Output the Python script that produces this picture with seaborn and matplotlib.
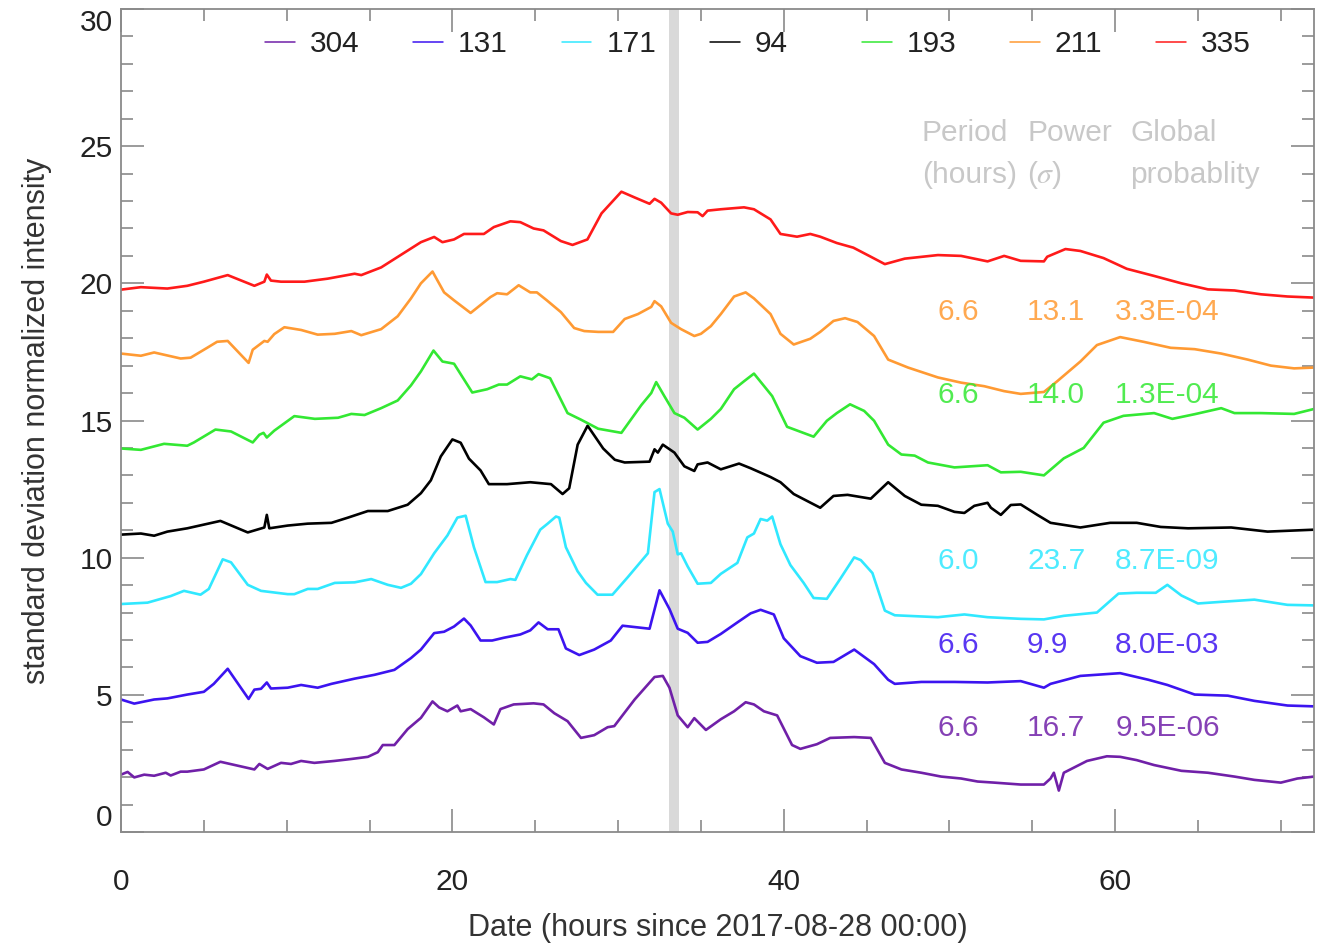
import matplotlib
matplotlib.use("Agg")
import matplotlib.pyplot as plt
import seaborn as sns
import pandas as pd
from matplotlib.ticker import MultipleLocator

# ---------------- data ----------------
channels = ["304", "131", "171", "94", "193", "211", "335"]
colors = ["#7020A8", "#3C14F0", "#30E8FF", "#000000", "#33E833", "#FF9A33", "#FF1A1A"]

s335 = [(0, 19.77), (1.2, 19.86), (2.8, 19.81), (4.0, 19.91), (5.0, 20.06), (6.44, 20.3), (8.05, 19.91),
        (8.65, 20.06), (8.8, 20.32), (9.05, 20.1), (9.66, 20.06), (11.07, 20.06), (12.47, 20.17),
        (14.1, 20.35), (14.5, 20.3), (15.7, 20.58), (16.9, 21.04), (18.1, 21.5), (18.9, 21.69),
        (19.4, 21.5), (20.1, 21.6), (20.7, 21.8), (21.9, 21.8), (22.5, 22.05), (23.5, 22.26),
        (24.1, 22.23), (24.9, 22.0), (25.5, 21.93), (26.55, 21.54), (27.25, 21.4), (28.15, 21.6),
        (29.0, 22.55), (30.2, 23.34), (31.0, 23.13), (31.9, 22.9), (32.2, 23.08), (32.6, 22.94),
        (33.2, 22.55), (33.6, 22.5), (34.2, 22.6), (34.8, 22.59), (35.1, 22.45), (35.4, 22.65),
        (36.2, 22.7), (37.6, 22.77), (38.2, 22.7), (39.2, 22.33), (39.8, 21.8), (40.8, 21.7),
        (41.6, 21.8), (42.2, 21.7), (43.2, 21.47), (44.2, 21.3), (45.25, 20.97), (46.1, 20.7),
        (47.3, 20.9), (49.3, 21.03), (50.7, 21.0), (52.3, 20.8), (53.3, 21.0), (54.3, 20.82),
        (55.7, 20.8), (55.9, 20.97), (57.0, 21.25), (57.9, 21.18), (59.3, 20.92), (60.7, 20.53),
        (62.35, 20.27), (64.0, 20.0), (65.6, 19.78), (67.2, 19.74), (68.8, 19.6), (70.4, 19.52),
        (72, 19.48)]

s211 = [(0, 17.44), (1.2, 17.36), (2.0, 17.48), (3.6, 17.26), (4.2, 17.29), (5.2, 17.65), (5.8, 17.87),
        (6.44, 17.9), (7.7, 17.1), (7.95, 17.58), (8.65, 17.9), (8.85, 17.87), (9.25, 18.15),
        (9.86, 18.4), (10.87, 18.3), (11.87, 18.13), (12.9, 18.16), (13.9, 18.26), (14.5, 18.11),
        (15.7, 18.33), (16.7, 18.8), (17.5, 19.45), (18.1, 20.0), (18.8, 20.43), (19.5, 19.67),
        (20.1, 19.38), (21.1, 18.92), (22.3, 19.5), (22.7, 19.64), (23.3, 19.6), (24.0, 19.93),
        (24.7, 19.67), (25.1, 19.67), (25.7, 19.38), (26.55, 18.95), (27.35, 18.37), (27.96, 18.26),
        (28.8, 18.23), (29.7, 18.23), (30.4, 18.7), (31.2, 18.88), (32.0, 19.14), (32.2, 19.35),
        (32.6, 19.16), (33.2, 18.56), (33.8, 18.33), (34.6, 18.08), (35.0, 18.16), (35.6, 18.44),
        (36.2, 18.88), (37.0, 19.52), (37.7, 19.67), (38.2, 19.45), (39.2, 18.88), (39.8, 18.16),
        (40.6, 17.77), (41.6, 17.98), (42.2, 18.23), (43.0, 18.63), (43.7, 18.73), (44.45, 18.59),
        (45.45, 18.08), (46.3, 17.22), (47.5, 16.93), (49.3, 16.57), (50.7, 16.38), (52.1, 16.25),
        (53.3, 16.07), (54.3, 15.97), (55.7, 16.04), (56.5, 16.43), (57.9, 17.15), (58.9, 17.75),
        (60.3, 18.04), (61.7, 17.87), (63.35, 17.65), (64.8, 17.6), (66.4, 17.44), (68.0, 17.22),
        (69.4, 17.0), (70.8, 16.9), (72, 16.93)]

s193 = [(0, 13.98), (1.2, 13.93), (2.6, 14.15), (4.0, 14.08), (4.4, 14.2), (5.7, 14.67), (6.64, 14.6),
        (7.95, 14.2), (8.35, 14.48), (8.6, 14.55), (8.8, 14.38), (9.25, 14.63), (10.46, 15.16),
        (11.7, 15.06), (13.1, 15.1), (13.9, 15.24), (14.7, 15.2), (15.7, 15.45), (16.7, 15.73),
        (17.5, 16.28), (18.1, 16.79), (18.86, 17.55), (19.4, 17.15), (20.1, 17.07), (21.2, 16.02),
        (22.1, 16.14), (22.8, 16.31), (23.3, 16.31), (24.1, 16.61), (24.8, 16.5), (25.2, 16.69),
        (25.9, 16.54), (26.95, 15.27), (27.76, 15.03), (28.8, 14.7), (30.2, 14.55), (31.4, 15.56),
        (32.0, 16.0), (32.3, 16.4), (32.8, 15.88), (33.4, 15.27), (34.0, 15.1), (34.8, 14.67),
        (35.6, 15.06), (36.2, 15.42), (37.0, 16.14), (37.6, 16.43), (38.2, 16.71), (39.3, 15.89),
        (40.2, 14.77), (41.8, 14.41), (42.6, 14.99), (43.2, 15.27), (44.0, 15.59), (44.85, 15.35),
        (45.45, 14.99), (46.3, 14.12), (47.1, 13.76), (47.9, 13.72), (48.7, 13.47), (50.3, 13.29),
        (52.3, 13.37), (53.1, 13.11), (54.3, 13.13), (55.7, 13.0), (56.9, 13.62), (58.1, 14.0),
        (59.3, 14.92), (60.5, 15.17), (62.35, 15.27), (63.45, 15.06), (64.8, 15.23), (66.4, 15.45),
        (67.2, 15.27), (68.8, 15.27), (70.8, 15.24), (72, 15.42)]

s94 = [(0, 10.84), (1.2, 10.88), (2.0, 10.8), (2.8, 10.95), (4.0, 11.07), (6.0, 11.34), (7.65, 10.92),
       (8.65, 11.1), (8.8, 11.56), (8.95, 11.07), (10.06, 11.17), (11.27, 11.24), (12.7, 11.27),
       (13.7, 11.46), (14.9, 11.7), (16.1, 11.7), (17.3, 11.93), (18.1, 12.35), (18.7, 12.82),
       (19.3, 13.69), (20.0, 14.31), (20.5, 14.19), (21.0, 13.61), (21.7, 13.18), (22.2, 12.68),
       (23.3, 12.68), (24.7, 12.75), (25.95, 12.68), (26.65, 12.32), (27.05, 12.53), (27.56, 14.12),
       (28.16, 14.81), (29.1, 13.98), (29.8, 13.57), (30.4, 13.47), (31.9, 13.5), (32.2, 13.95),
       (32.4, 13.83), (32.7, 14.12), (33.4, 13.83), (34.0, 13.33), (34.6, 13.16), (34.8, 13.4),
       (35.4, 13.47), (36.2, 13.22), (37.3, 13.43), (38.0, 13.26), (39.2, 12.94), (39.8, 12.75),
       (40.6, 12.32), (42.2, 11.82), (43.0, 12.25), (43.85, 12.29), (45.25, 12.15), (46.3, 12.75),
       (47.3, 12.25), (48.3, 11.93), (49.3, 11.89), (50.3, 11.67), (50.9, 11.63), (51.5, 11.89),
       (52.3, 12.0), (52.5, 11.82), (53.1, 11.56), (53.7, 11.92), (54.3, 11.94), (55.3, 11.56),
       (56.1, 11.27), (57.9, 11.1), (59.7, 11.27), (61.3, 11.27), (62.75, 11.12), (64.4, 11.07),
       (67.0, 11.1), (69.2, 10.95), (72, 11.02)]

s171 = [(0, 8.31), (1.6, 8.36), (3.0, 8.6), (3.8, 8.79), (4.8, 8.65), (5.3, 8.86), (6.14, 9.94),
        (6.64, 9.83), (7.65, 9.01), (8.45, 8.79), (10.06, 8.67), (10.46, 8.67), (11.27, 8.86),
        (11.87, 8.86), (12.9, 9.08), (14.1, 9.1), (15.1, 9.22), (16.1, 9.01), (16.9, 8.9),
        (17.5, 9.05), (18.1, 9.4), (18.9, 10.16), (19.7, 10.81), (20.3, 11.46), (20.8, 11.53),
        (21.3, 10.38), (22.0, 9.11), (22.7, 9.11), (23.5, 9.22), (23.8, 9.19), (24.5, 10.09),
        (25.3, 11.02), (25.75, 11.24), (26.25, 11.5), (26.45, 11.46), (26.85, 10.38), (27.55, 9.51),
        (28.06, 9.08), (28.76, 8.65), (29.66, 8.65), (30.6, 9.3), (31.8, 10.16), (32.2, 12.39),
        (32.5, 12.5), (33.0, 11.24), (33.3, 10.95), (33.6, 10.12), (33.8, 10.16), (34.2, 9.68),
        (34.8, 9.05), (35.6, 9.08), (36.2, 9.41), (37.2, 9.81), (37.8, 10.74), (38.2, 10.88),
        (38.6, 11.41), (39.0, 11.35), (39.3, 11.5), (39.8, 10.49), (40.4, 9.73), (41.2, 9.08),
        (41.8, 8.53), (42.6, 8.5), (43.4, 9.22), (44.25, 10.01), (44.65, 9.91), (45.35, 9.44),
        (46.1, 8.07), (46.7, 7.9), (49.3, 7.83), (50.9, 7.93), (52.3, 7.83), (54.3, 7.77),
        (55.7, 7.75), (56.9, 7.88), (58.9, 8.0), (60.2, 8.69), (61.3, 8.72), (62.45, 8.72),
        (63.15, 9.01), (64.0, 8.62), (65.0, 8.33), (66.4, 8.39), (68.4, 8.47), (70.4, 8.28),
        (72, 8.26)]

s131 = [(0, 4.83), (0.8, 4.68), (2.0, 4.83), (2.8, 4.87), (4.0, 5.01), (5.0, 5.11), (5.6, 5.4),
        (6.44, 5.95), (7.7, 4.85), (8.05, 5.19), (8.45, 5.22), (8.8, 5.45), (9.05, 5.23),
        (10.06, 5.26), (10.87, 5.36), (11.87, 5.26), (12.7, 5.4), (14.1, 5.59), (15.3, 5.73),
        (16.5, 5.91), (17.5, 6.34), (18.1, 6.65), (18.9, 7.25), (19.5, 7.3), (20.1, 7.49),
        (20.7, 7.78), (21.1, 7.53), (21.7, 6.98), (22.4, 6.98), (23.1, 7.08), (24.1, 7.2),
        (24.7, 7.35), (25.2, 7.64), (25.75, 7.39), (26.4, 7.39), (26.85, 6.69), (27.66, 6.45),
        (28.56, 6.65), (29.56, 6.98), (30.27, 7.52), (31.9, 7.41), (32.5, 8.81), (33.1, 8.13),
        (33.6, 7.41), (34.2, 7.26), (34.8, 6.9), (35.4, 6.93), (36.2, 7.22), (37.2, 7.64),
        (38.0, 7.97), (38.6, 8.1), (39.4, 7.93), (40.0, 7.06), (41.0, 6.41), (42.0, 6.17),
        (43.0, 6.2), (44.25, 6.65), (45.45, 6.12), (46.3, 5.55), (46.7, 5.4), (48.3, 5.47),
        (50.3, 5.47), (52.3, 5.45), (54.3, 5.5), (55.7, 5.26), (56.1, 5.4), (57.9, 5.69),
        (60.3, 5.79), (62.0, 5.55), (63.15, 5.36), (64.8, 5.01), (66.8, 4.97), (68.4, 4.78),
        (70.4, 4.61), (72, 4.58)]

s304 = [(0, 2.09), (0.4, 2.19), (0.8, 1.99), (1.4, 2.09), (2.0, 2.05), (2.7, 2.16), (3.0, 2.06),
        (3.6, 2.2), (4.0, 2.2), (5.0, 2.28), (6.0, 2.56), (8.05, 2.28), (8.35, 2.48), (8.85, 2.3),
        (9.66, 2.52), (10.26, 2.48), (10.87, 2.59), (11.67, 2.52), (12.88, 2.59), (13.88, 2.66),
        (14.9, 2.74), (15.5, 2.91), (15.8, 3.17), (16.5, 3.17), (17.3, 3.75), (18.1, 4.16),
        (18.8, 4.76), (19.2, 4.54), (19.7, 4.4), (20.3, 4.61), (20.5, 4.4), (21.1, 4.48),
        (21.9, 4.18), (22.5, 3.92), (22.9, 4.48), (23.7, 4.65), (24.9, 4.69), (25.5, 4.65),
        (26.15, 4.33), (26.95, 4.04), (27.76, 3.43), (28.56, 3.53), (29.37, 3.82), (29.77, 3.86),
        (31.0, 4.83), (32.2, 5.65), (32.7, 5.69), (33.1, 5.26), (33.6, 4.25), (34.2, 3.82),
        (34.6, 4.15), (35.3, 3.72), (36.2, 4.11), (37.0, 4.4), (37.7, 4.73), (38.2, 4.65),
        (38.8, 4.4), (39.6, 4.25), (40.5, 3.17), (41.0, 3.03), (42.0, 3.2), (42.8, 3.43),
        (44.25, 3.46), (45.25, 3.43), (46.1, 2.52), (47.1, 2.28), (48.3, 2.16), (49.5, 2.02),
        (50.7, 1.95), (51.7, 1.84), (52.7, 1.8), (54.3, 1.73), (55.7, 1.73), (56.1, 1.95),
        (56.3, 2.16), (56.6, 1.51), (56.9, 2.16), (58.3, 2.59), (59.5, 2.76), (60.3, 2.74),
        (61.3, 2.62), (62.35, 2.44), (64.0, 2.23), (65.6, 2.16), (67.2, 2.02), (68.4, 1.9),
        (70.0, 1.8), (71.0, 1.95), (72, 2.02)]

series = {"304": s304, "131": s131, "171": s171, "94": s94, "193": s193, "211": s211, "335": s335}

# wavelet results per channel: (period [h], power [sigma], global probability)
stats_channels = ["211", "193", "171", "131", "304"]
stats_period = ["6.6", "6.6", "6.0", "6.6", "6.6"]
stats_power = ["13.1", "14.0", "23.7", "9.9", "16.7"]
stats_prob = ["3.3E-04", "1.3E-04", "8.7E-09", "8.0E-03", "9.5E-06"]
stats_ypos = [18.95, 15.92, 9.87, 6.8, 3.78]

band = (33.1, 33.7)

# ---------------- figure ----------------
sns.set_theme(style="ticks")
plt.rcParams["font.family"] = ["Liberation Sans", "DejaVu Sans"]
plt.rcParams["mathtext.fontset"] = "stix"

FS = 21.5
fig = plt.figure(figsize=(13.28, 9.43), dpi=100)
ax = fig.add_axes([121 / 1328, 1 - 832 / 943, (1314 - 121) / 1328, (832 - 9) / 943])

rows = []
for ch in channels:
    for h, v in series[ch]:
        rows.append({"hours": h, "value": v, "channel": ch})
df = pd.DataFrame(rows)

ax.axvspan(band[0], band[1], color="#d9d9d9", lw=0, zorder=0)

sns.lineplot(data=df, x="hours", y="value", hue="channel", hue_order=channels,
             palette=dict(zip(channels, colors)), estimator=None, sort=False,
             linewidth=1.9, ax=ax, zorder=2)

handles, labels = ax.get_legend_handles_labels()
if ax.get_legend() is not None:
    ax.get_legend().remove()

leg_kw = dict(frameon=False, fontsize=FS, handlelength=1.0, handletextpad=0.5,
              columnspacing=1.8, borderpad=0, borderaxespad=0, loc="upper left")
leg1 = ax.legend(handles[:4], labels[:4], ncol=4, bbox_to_anchor=(0.1207, 0.974), **leg_kw)
ax.add_artist(leg1)
leg2 = ax.legend(handles[4:], labels[4:], ncol=3, bbox_to_anchor=(0.621, 0.974), **leg_kw)
for lg in (leg1, leg2):
    for ln in lg.get_lines():
        ln.set_linewidth(1.1)
    for t in lg.get_texts():
        t.set_color("#222222")

# header of the statistics table
hdr = "#c8c8c8"
ax.text(48.34, 25.48, "Period", color=hdr, fontsize=FS, va="center", ha="left")
ax.text(48.34, 23.95, "(hours)", color=hdr, fontsize=FS, va="center", ha="left")
ax.text(54.68, 25.48, "Power", color=hdr, fontsize=FS, va="center", ha="left")
ax.text(54.68, 23.95, r"($\sigma$)", color=hdr, fontsize=FS, va="center", ha="left")
ax.text(60.9, 25.48, "Global", color=hdr, fontsize=FS, va="center", ha="left")
ax.text(60.9, 23.95, "probablity", color=hdr, fontsize=FS, va="center", ha="left")

cmap = dict(zip(channels, colors))
for ch, p, pw, pr, yv in zip(stats_channels, stats_period, stats_power, stats_prob, stats_ypos):
    c = cmap[ch]
    ax.text(49.25, yv, p, color=c, alpha=0.85, fontsize=FS, va="center", ha="left")
    ax.text(54.68, yv, pw, color=c, alpha=0.85, fontsize=FS, va="center", ha="left")
    ax.text(60.0, yv, pr, color=c, alpha=0.85, fontsize=FS, va="center", ha="left")

# axes styling
ax.set_xlim(0, 72)
ax.set_ylim(0, 30)
ax.xaxis.set_major_locator(MultipleLocator(20))
ax.xaxis.set_minor_locator(MultipleLocator(5))
ax.yaxis.set_major_locator(MultipleLocator(5))
ax.yaxis.set_minor_locator(MultipleLocator(1))
axc = "#8a8a8a"
for sp in ax.spines.values():
    sp.set_color(axc)
    sp.set_linewidth(1.3)
ax.tick_params(which="both", direction="in", top=True, right=True, color=axc, width=1.2,
               labelsize=FS, labelcolor="#222222")
ax.tick_params(which="major", length=16.5)
ax.tick_params(which="minor", length=8.5)
ax.tick_params(axis="x", which="major", pad=26)
ax.tick_params(axis="y", which="major", pad=6)

ax.set_xlabel("Date (hours since 2017-08-28 00:00)", fontsize=FS + 0.5, color="#333333", labelpad=12)
ax.set_ylabel("standard deviation normalized intensity", fontsize=FS + 0.5, color="#333333", labelpad=20)

fig.canvas.draw()
for t in ax.get_yticklabels():
    if t.get_text() == "0":
        t.set_va("bottom")
    elif t.get_text() == "30":
        t.set_va("top")

fig.savefig("out.png", dpi=100)
